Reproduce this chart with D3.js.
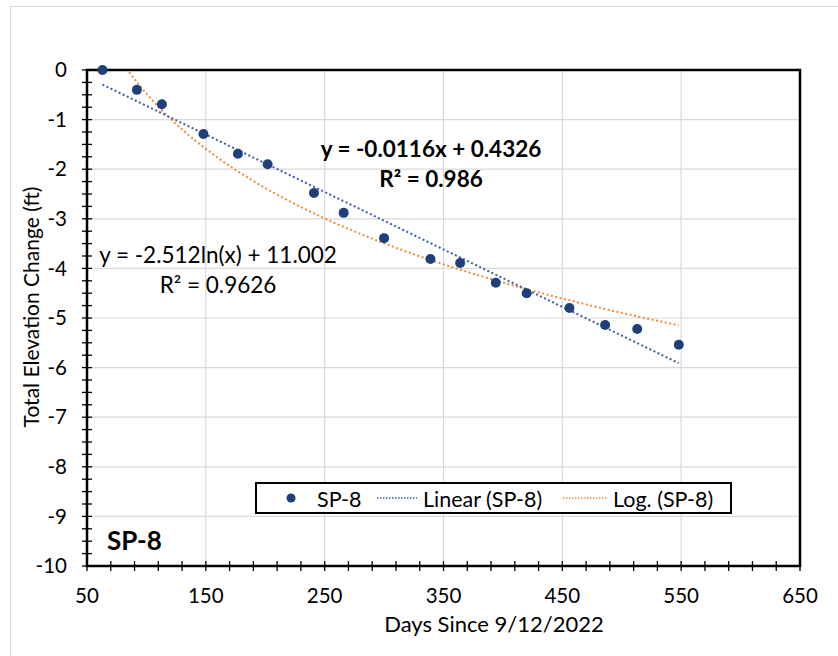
<!DOCTYPE html>
<html>
<head>
<meta charset="utf-8">
<script src="https://cdn.jsdelivr.net/npm/d3@7"></script>
<style>
  body { margin: 0; background: #fff; }
  text { font-family: Lato, "Open Sans", sans-serif; fill: #000; }
</style>
</head>
<body>
<svg id="chart" width="838" height="656"></svg>
<script>
// measured points for SP-8
var days = [63, 92, 113, 148, 177, 202, 241, 266, 300, 339, 364, 394, 420, 456, 486, 513, 548];
var change = [0, -0.40, -0.69, -1.29, -1.69, -1.90, -2.48, -2.88, -3.39, -3.81, -3.89, -4.29, -4.50, -4.80, -5.14, -5.22, -5.54];

var xTicks = [50, 150, 250, 350, 450, 550, 650];
var yTicks = [0, -1, -2, -3, -4, -5, -6, -7, -8, -9, -10];

var linearLabel = ["y = -0.0116x + 0.4326", "R\u00b2 = 0.986"];
var logLabel = ["y = -2.512ln(x) + 11.002", "R\u00b2 = 0.9626"];
var legendNames = ["SP-8", "Linear (SP-8)", "Log. (SP-8)"];

var dotColor = "#1f3f7a";
var linColor = "#3a5ea8";
var logColor = "#f08a3c";

var svg = d3.select("#chart");

// outer chart frame
svg.append("rect")
  .attr("x", 10.5).attr("y", 6.5)
  .attr("width", 840).attr("height", 660)
  .attr("fill", "none").attr("stroke", "#d9d9d9");

var pLeft = 87, pRight = 800, pTop = 70, pBottom = 566;

var x = d3.scaleLinear().domain([50, 650]).range([pLeft, pRight]);
var y = d3.scaleLinear().domain([-10, 0]).range([pBottom, pTop]);

// gridlines
svg.append("g").selectAll("line").data(xTicks.slice(1, -1)).enter().append("line")
  .attr("x1", function(d) { return x(d); }).attr("x2", function(d) { return x(d); })
  .attr("y1", pTop).attr("y2", pBottom)
  .attr("stroke", "#d9d9d9").attr("stroke-width", 1.2);
svg.append("g").selectAll("line").data(yTicks.slice(1, -1)).enter().append("line")
  .attr("y1", function(d) { return y(d); }).attr("y2", function(d) { return y(d); })
  .attr("x1", pLeft).attr("x2", pRight)
  .attr("stroke", "#d9d9d9").attr("stroke-width", 1.2);

// minor ticks crossing the axes
var xMinor = d3.range(50, 651, 20);
var yMinor = d3.range(0, -10.01, -0.25);
svg.append("g").selectAll("line").data(xMinor).enter().append("line")
  .attr("x1", function(d) { return x(d); }).attr("x2", function(d) { return x(d); })
  .attr("y1", pBottom - 5).attr("y2", pBottom + 5)
  .attr("stroke", "#000").attr("stroke-width", 1.3);
svg.append("g").selectAll("line").data(yMinor).enter().append("line")
  .attr("y1", function(d) { return y(d); }).attr("y2", function(d) { return y(d); })
  .attr("x1", pLeft - 5).attr("x2", pLeft + 5)
  .attr("stroke", "#000").attr("stroke-width", 1.3);

// tick labels
svg.append("g").selectAll("text").data(xTicks).enter().append("text")
  .attr("x", function(d) { return x(d); })
  .attr("y", pBottom + 37)
  .attr("text-anchor", "middle")
  .style("font-size", "20.5px")
  .text(function(d) { return d; });
svg.append("g").selectAll("text").data(yTicks).enter().append("text")
  .attr("x", pLeft - 20)
  .attr("y", function(d) { return y(d); })
  .attr("dy", "0.35em")
  .attr("text-anchor", "end")
  .style("font-size", "20.5px")
  .text(function(d) { return d; });

// axis titles
svg.append("text")
  .attr("x", 494).attr("y", 632)
  .attr("text-anchor", "middle")
  .style("font-size", "22px")
  .text("Days Since 9/12/2022");
svg.append("text")
  .attr("transform", "translate(39,307) rotate(-90)")
  .attr("text-anchor", "middle")
  .style("font-size", "21px")
  .text("Total Elevation Change (ft)");

// least-squares trend lines fitted to the points
function fit(xs, ys) {
  var mx = d3.mean(xs), my = d3.mean(ys);
  var num = d3.sum(xs, function(v, i) { return (v - mx) * (ys[i] - my); });
  var den = d3.sum(xs, function(v) { return (v - mx) * (v - mx); });
  var b = num / den;
  return { slope: b, icpt: my - b * mx };
}
var lin = fit(days, change);
var lg = fit(days.map(Math.log), change);

var xMin = d3.min(days), xMax = d3.max(days);
var trendX = d3.range(xMin, xMax + 0.5, 1);

svg.append("clipPath").attr("id", "plotclip").append("rect")
  .attr("x", pLeft).attr("y", pTop).attr("width", pRight - pLeft).attr("height", pBottom - pTop);

var plot = svg.append("g").attr("clip-path", "url(#plotclip)");

plot.append("path")
  .datum(trendX)
  .attr("fill", "none")
  .attr("stroke", logColor)
  .attr("stroke-width", 2)
  .attr("stroke-dasharray", "2,2.5")
  .attr("d", d3.line()
    .x(function(d) { return x(d); })
    .y(function(d) { return y(lg.slope * Math.log(d) + lg.icpt); }));

plot.append("path")
  .datum([xMin, xMax])
  .attr("fill", "none")
  .attr("stroke", linColor)
  .attr("stroke-width", 2)
  .attr("stroke-dasharray", "2,2.5")
  .attr("d", d3.line()
    .x(function(d) { return x(d); })
    .y(function(d) { return y(lin.slope * d + lin.icpt); }));

// plot frame
svg.append("rect")
  .attr("x", pLeft).attr("y", pTop)
  .attr("width", pRight - pLeft).attr("height", pBottom - pTop)
  .attr("fill", "none").attr("stroke", "#000").attr("stroke-width", 2.5);

// data points
svg.append("g").selectAll("circle").data(days).enter().append("circle")
  .attr("cx", function(d) { return x(d); })
  .attr("cy", function(d, i) { return y(change[i]); })
  .attr("r", 5)
  .attr("fill", dotColor);

// trendline equations
svg.append("g").selectAll("text").data(linearLabel).enter().append("text")
  .attr("x", 431).attr("y", function(d, i) { return 157 + i * 30; })
  .attr("text-anchor", "middle")
  .style("font-size", "22.5px").style("font-weight", "bold")
  .text(function(d) { return d; });
svg.append("g").selectAll("text").data(logLabel).enter().append("text")
  .attr("x", 218).attr("y", function(d, i) { return 263 + i * 30; })
  .attr("text-anchor", "middle")
  .style("font-size", "22.5px")
  .text(function(d) { return d; });

// series name
svg.append("text")
  .attr("x", 107).attr("y", 550)
  .style("font-size", "26px").style("font-weight", "bold")
  .text("SP-8");

// legend
var leg = svg.append("g");
leg.append("rect")
  .attr("x", 256).attr("y", 483).attr("width", 475).attr("height", 30)
  .attr("fill", "#fff").attr("stroke", "#000").attr("stroke-width", 2);
leg.append("circle").attr("cx", 291).attr("cy", 498).attr("r", 4.5).attr("fill", dotColor);
leg.append("line").attr("x1", 377).attr("x2", 417).attr("y1", 498).attr("y2", 498)
  .attr("stroke", linColor).attr("stroke-width", 1.5).attr("stroke-dasharray", "1.5,1.5");
leg.append("line").attr("x1", 563).attr("x2", 607).attr("y1", 498).attr("y2", 498)
  .attr("stroke", logColor).attr("stroke-width", 1.5).attr("stroke-dasharray", "1.5,1.5");
leg.selectAll("text.lbl").data(legendNames).enter().append("text")
  .attr("class", "lbl")
  .attr("x", function(d, i) { return [317, 423, 613][i]; })
  .attr("y", 499).attr("dy", "0.35em")
  .style("font-size", "21.5px")
  .text(function(d) { return d; });
</script>
</body>
</html>
